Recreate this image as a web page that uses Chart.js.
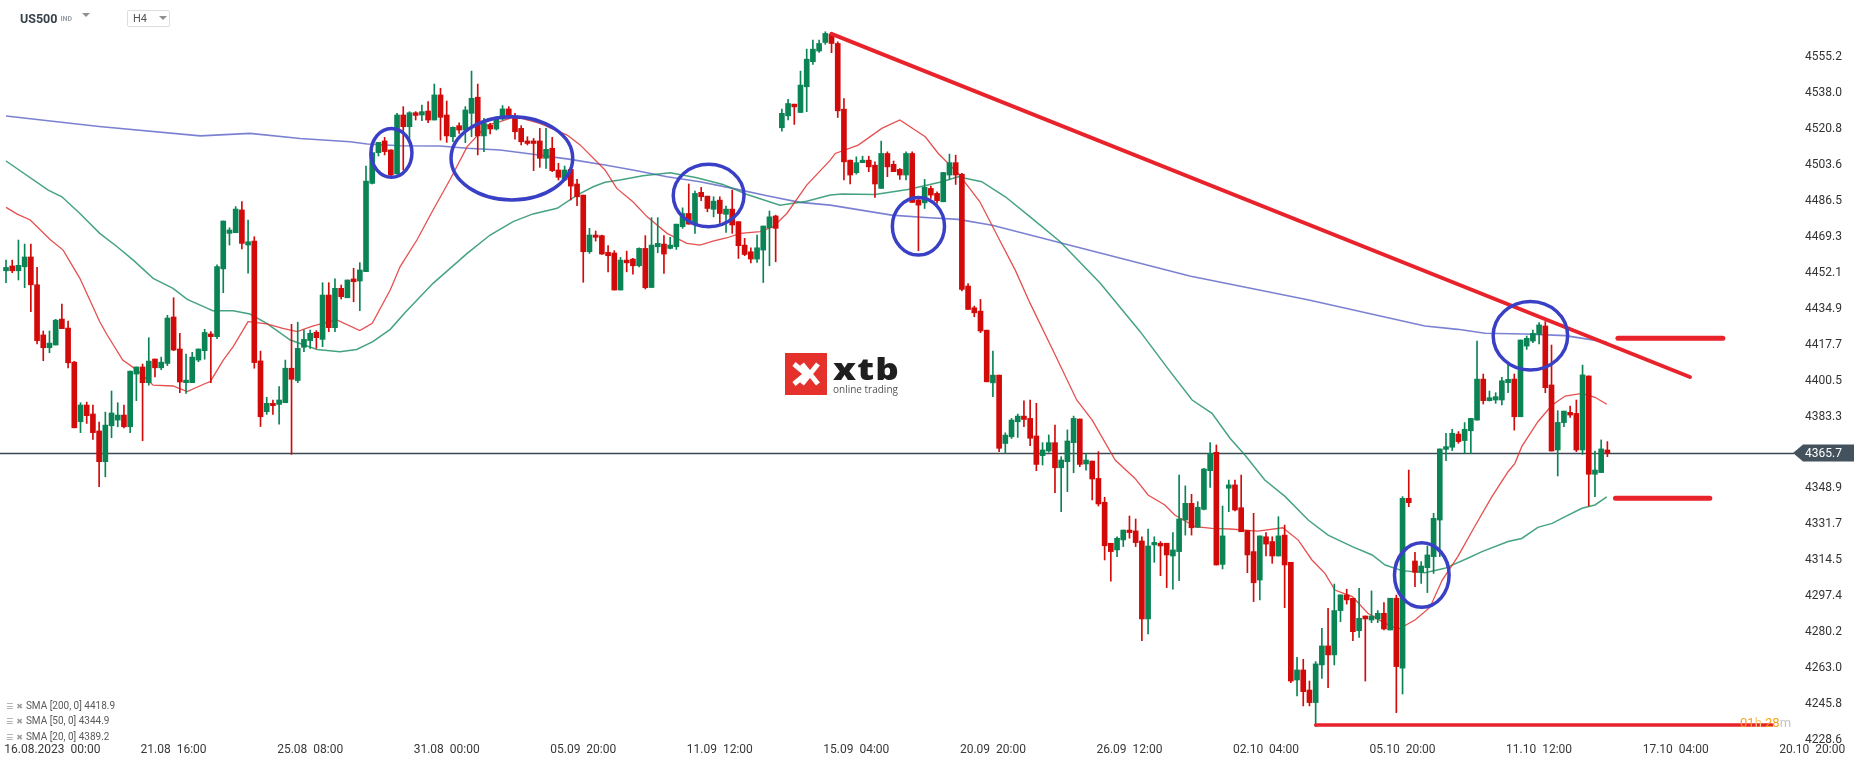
<!DOCTYPE html>
<html>
<head>
<meta charset="utf-8">
<script src="https://cdn.jsdelivr.net/npm/chart.js@4.4.0/dist/chart.umd.min.js"></script>
<style>
  html, body { margin: 0; padding: 0; background: #fff; }
  #wrap { position: relative; width: 1866px; height: 767px; overflow: hidden; font-family: Roboto, "Noto Sans", sans-serif; }
  #chart { position: absolute; left: 0; top: 0; }
  .abs { position: absolute; white-space: pre; }
  #sym { left: 20px; top: 11px; font-size: 12.5px; font-weight: 700; color: #36434d; }
  #sym span { font-size: 7px; color: #9aa0a6; margin-left: 3px; vertical-align: 2px; }
  .tri { position: absolute; width: 0; height: 0; border-left: 4px solid transparent; border-right: 4px solid transparent; border-top: 4px solid #8d9196; }
  #tf { left: 127px; top: 10px; width: 41px; height: 15px; border: 1px solid #dcdfe2; border-radius: 2px; }
  #tf span { position: absolute; left: 5px; top: 1px; font-size: 11px; color: #555; }
  .leg { left: 6px; font-size: 10px; color: #5a5a5a; line-height: 14px; }
  .leg i { font-style: normal; font-family: "DejaVu Sans"; font-size: 8px; color: #a0a0a0; margin-right: 3px; }
  #logo { left: 785px; top: 353px; }
  #xtb { left: 833px; top: 348px; font-family: "Open Sans", sans-serif; font-weight: 800; font-size: 30px; color: #1f1f1f; transform-origin: 0 0; transform: scaleX(1.22); letter-spacing: 1px; }
  #ot { left: 833px; top: 382px; font-family: "Open Sans", sans-serif; font-size: 10px; color: #555; }
  #cd { left: 1740px; top: 715px; font-size: 13px; }
</style>
</head>
<body>
<div id="wrap">
  <canvas id="chart" width="1866" height="767"></canvas>

  <div id="sym" class="abs">US500<span>IND</span></div>
  <div class="tri" style="left:82px;top:13px"></div>
  <div id="tf" class="abs"><span>H4</span><div class="tri" style="left:31px;top:5px"></div></div>

  <div class="abs leg" style="top:699px"><i>☰</i><i>✖</i>SMA [200, 0] 4418.9</div>
  <div class="abs leg" style="top:714px"><i>☰</i><i>✖</i>SMA [50, 0] 4344.9</div>
  <div class="abs leg" style="top:730px"><i>☰</i><i>✖</i>SMA [20, 0] 4389.2</div>

  <svg id="logo" class="abs" width="42" height="42" viewBox="0 0 42 42">
    <rect width="42" height="42" fill="#e4312b"/>
    <path d="M9 11 L21 21 L9 31" stroke="#fff" stroke-width="5" fill="none"/>
    <path d="M17 11 L33 31 M33 11 L17 31" stroke="#fff" stroke-width="5" fill="none"/>
  </svg>
  <div id="xtb" class="abs">xtb</div>
  <div id="ot" class="abs">online trading</div>

  <div id="cd" class="abs"><span style="color:#f5a31a">01</span><span style="color:#f7c77a">h</span> <span style="color:#f5a31a">28</span><span style="color:#c4c4c4">m</span></div>
</div>

<script>
// H4 candles of US500, oldest first. Bar index 0 = 16.08.2023 00:00
const firstBar = -5;

const opens = [
  4453.0, 4455.3, 4453.0, 4454.9, 4459.6, 4446.3, 4422.3, 4416.2, 4417.5, 4429.9,
  4425.6, 4409.3, 4380.8, 4388.8, 4384.5, 4376.4, 4361.7, 4378.9, 4381.6, 4384.0,
  4378.4, 4403.6, 4407.0, 4399.5, 4410.8, 4406.6, 4408.7, 4430.9, 4415.6, 4399.5,
  4399.5, 4410.3, 4414.8, 4422.8, 4421.5, 4453.9, 4470.9, 4471.2, 4482.1, 4465.3,
  4467.2, 4409.9, 4385.6, 4389.6, 4389.1, 4389.9, 4406.4, 4400.5, 4416.4, 4419.6,
  4423.6, 4420.2, 4441.4, 4425.8, 4444.6, 4440.1, 4449.1, 4448.1, 4452.6, 4494.8,
  4509.5, 4515.1, 4510.8, 4499.3, 4527.5, 4521.9, 4528.6, 4527.5, 4529.4, 4525.1,
  4537.1, 4527.5, 4517.1, 4522.4, 4520.3, 4528.3, 4536.0, 4517.5, 4522.7, 4520.8,
  4525.6, 4530.4, 4527.0, 4521.1, 4515.1, 4515.1, 4515.1, 4506.8, 4511.6, 4501.2,
  4496.4, 4501.5, 4494.5, 4489.2, 4462.1, 4470.1, 4469.8, 4461.8, 4461.5, 4443.8,
  4458.1, 4458.6, 4455.4, 4463.7, 4445.0, 4464.5, 4465.8, 4463.7, 4464.5, 4474.1,
  4480.4, 4475.3, 4490.5, 4488.7, 4482.4, 4486.8, 4480.0, 4482.5, 4476.5, 4465.3,
  4462.1, 4458.6, 4462.9, 4473.6, 4479.2, 4521.4, 4527.1, 4532.7, 4528.7, 4541.0,
  4553.0, 4558.1, 4562.2, 4566.2, 4561.7, 4530.3, 4505.9, 4499.9, 4504.7, 4505.9,
  4503.5, 4492.4, 4509.1, 4503.9, 4501.5, 4498.8, 4509.1, 4486.8, 4485.5, 4492.4,
  4490.0, 4486.0, 4498.8, 4504.7, 4499.2, 4445.7, 4435.3, 4433.7, 4424.6, 4399.4,
  4403.1, 4370.4, 4373.6, 4380.8, 4383.5, 4382.4, 4374.0, 4364.6, 4366.8, 4370.8,
  4358.8, 4361.7, 4370.8, 4382.1, 4360.6, 4362.0, 4353.7, 4342.3, 4322.7, 4319.5,
  4324.3, 4329.0, 4328.6, 4323.8, 4286.5, 4321.9, 4322.7, 4322.7, 4316.6, 4318.7,
  4333.8, 4341.8, 4330.3, 4338.9, 4357.4, 4366.2, 4312.6, 4349.0, 4350.6, 4339.7,
  4328.7, 4318.7, 4305.1, 4325.8, 4323.5, 4316.6, 4326.6, 4313.6, 4257.3, 4262.1,
  4252.5, 4246.5, 4264.5, 4273.6, 4269.3, 4290.5, 4298.0, 4296.4, 4280.9, 4287.9,
  4286.0, 4286.5, 4289.2, 4281.2, 4296.4, 4262.9, 4344.2, 4314.2, 4308.8, 4311.0,
  4316.3, 4333.8, 4367.6, 4368.6, 4374.9, 4371.8, 4376.5, 4381.6, 4401.2, 4390.9,
  4391.2, 4391.2, 4399.5, 4401.2, 4383.2, 4417.0, 4419.4, 4422.6, 4426.6, 4398.4,
  4367.3, 4380.4, 4385.3, 4384.8, 4367.3, 4402.7, 4355.7, 4356.5, 4367.3
];
const highs = [
  4458.1, 4458.1, 4467.7, 4465.8, 4465.8, 4454.6, 4424.2, 4424.2, 4429.8, 4437.1,
  4429.0, 4409.7, 4389.9, 4390.2, 4388.8, 4380.7, 4385.4, 4395.5, 4389.9, 4388.8,
  4405.0, 4407.0, 4408.4, 4421.0, 4410.8, 4411.7, 4431.7, 4440.1, 4423.1, 4413.2,
  4414.0, 4415.6, 4425.0, 4423.9, 4455.8, 4476.8, 4473.6, 4483.7, 4486.1, 4477.3,
  4469.3, 4414.6, 4392.5, 4391.2, 4397.6, 4410.3, 4427.4, 4428.4, 4424.7, 4424.7,
  4424.4, 4447.3, 4447.3, 4449.1, 4446.2, 4448.6, 4454.2, 4456.9, 4503.1, 4509.5,
  4514.4, 4516.8, 4510.8, 4528.3, 4531.5, 4529.1, 4529.1, 4532.3, 4533.9, 4542.3,
  4540.3, 4534.2, 4521.9, 4523.8, 4531.5, 4548.5, 4542.3, 4525.9, 4523.5, 4526.7,
  4532.0, 4531.5, 4528.3, 4522.4, 4517.1, 4516.3, 4521.1, 4521.1, 4516.8, 4504.4,
  4503.1, 4503.1, 4496.7, 4489.2, 4473.3, 4472.0, 4470.1, 4465.0, 4462.6, 4459.4,
  4462.4, 4458.9, 4464.0, 4469.8, 4478.4, 4478.4, 4469.8, 4469.0, 4475.3, 4483.1,
  4494.5, 4491.1, 4492.9, 4488.7, 4488.4, 4488.4, 4483.9, 4491.6, 4476.5, 4468.5,
  4464.0, 4470.1, 4474.4, 4481.6, 4479.6, 4530.3, 4535.0, 4532.7, 4548.5, 4559.0,
  4563.3, 4563.3, 4567.3, 4566.5, 4562.5, 4535.4, 4505.9, 4507.5, 4507.8, 4507.8,
  4505.1, 4515.0, 4509.9, 4505.5, 4501.9, 4509.9, 4509.9, 4488.4, 4496.7, 4493.5,
  4490.8, 4500.0, 4508.8, 4508.3, 4499.6, 4446.9, 4436.1, 4439.3, 4424.6, 4414.6,
  4403.1, 4375.5, 4382.4, 4384.5, 4390.8, 4391.2, 4389.6, 4370.8, 4374.5, 4379.2,
  4364.1, 4376.9, 4383.5, 4382.1, 4365.4, 4362.0, 4366.5, 4344.7, 4322.7, 4325.8,
  4329.0, 4335.7, 4334.3, 4325.8, 4329.5, 4325.8, 4323.5, 4322.7, 4327.8, 4355.3,
  4350.1, 4346.1, 4342.6, 4358.5, 4370.8, 4369.7, 4340.5, 4352.9, 4352.9, 4355.3,
  4328.7, 4337.0, 4326.2, 4327.8, 4325.8, 4335.4, 4331.4, 4313.6, 4268.1, 4267.2,
  4256.8, 4266.1, 4282.0, 4291.6, 4303.2, 4298.0, 4300.7, 4296.4, 4301.1, 4287.9,
  4299.9, 4290.5, 4294.3, 4296.4, 4297.9, 4345.0, 4357.7, 4318.4, 4313.9, 4321.4,
  4337.0, 4367.8, 4375.3, 4377.2, 4376.1, 4380.4, 4382.4, 4419.4, 4403.6, 4395.5,
  4394.7, 4402.0, 4409.1, 4403.6, 4419.9, 4421.8, 4424.7, 4428.2, 4428.7, 4417.5,
  4386.1, 4385.9, 4388.3, 4391.2, 4407.9, 4402.7, 4366.8, 4372.1, 4371.3
];
const lows = [
  4447.3, 4452.1, 4448.6, 4444.9, 4433.4, 4418.0, 4410.0, 4413.8, 4417.5, 4425.3,
  4406.6, 4377.9, 4375.6, 4380.0, 4372.4, 4349.7, 4354.5, 4373.2, 4378.4, 4377.9,
  4375.6, 4390.9, 4371.7, 4398.3, 4402.3, 4405.7, 4407.6, 4414.8, 4394.7, 4394.4,
  4399.5, 4409.5, 4410.7, 4399.5, 4420.5, 4442.5, 4465.3, 4471.2, 4463.4, 4451.8,
  4406.4, 4378.5, 4384.3, 4384.3, 4379.6, 4389.9, 4365.2, 4399.5, 4414.3, 4415.9,
  4415.9, 4416.7, 4423.9, 4423.9, 4439.5, 4440.1, 4438.2, 4433.9, 4452.6, 4494.5,
  4507.9, 4508.4, 4498.0, 4499.3, 4501.2, 4516.3, 4525.1, 4524.8, 4523.8, 4525.1,
  4515.5, 4514.4, 4514.7, 4518.7, 4514.3, 4517.1, 4508.4, 4510.0, 4518.4, 4520.3,
  4525.1, 4525.9, 4516.0, 4513.2, 4513.2, 4500.9, 4502.5, 4502.0, 4500.4, 4496.4,
  4496.4, 4486.9, 4484.1, 4447.5, 4461.3, 4467.2, 4460.8, 4452.5, 4443.8, 4443.8,
  4452.5, 4451.4, 4454.9, 4444.3, 4445.0, 4461.6, 4451.7, 4463.4, 4463.2, 4473.3,
  4475.3, 4470.9, 4486.5, 4481.2, 4478.8, 4475.7, 4471.4, 4470.9, 4458.9, 4460.2,
  4456.8, 4457.0, 4447.4, 4455.4, 4457.3, 4519.8, 4525.1, 4523.0, 4528.7, 4529.1,
  4551.7, 4557.4, 4561.3, 4557.3, 4526.3, 4496.4, 4494.5, 4499.2, 4504.7, 4500.4,
  4488.1, 4492.4, 4498.0, 4500.4, 4496.7, 4496.4, 4485.7, 4462.6, 4482.8, 4487.6,
  4485.2, 4486.0, 4496.7, 4494.3, 4443.4, 4434.5, 4431.0, 4423.4, 4399.9, 4392.8,
  4366.5, 4365.7, 4372.8, 4373.3, 4378.4, 4369.4, 4357.4, 4360.1, 4366.2, 4346.9,
  4337.8, 4347.4, 4356.4, 4359.3, 4357.7, 4343.4, 4340.5, 4314.7, 4304.6, 4316.3,
  4321.1, 4325.1, 4321.1, 4276.1, 4279.3, 4313.6, 4307.2, 4301.5, 4300.7, 4304.8,
  4326.6, 4326.6, 4330.3, 4338.6, 4349.4, 4312.3, 4310.4, 4337.8, 4338.1, 4328.2,
  4308.6, 4294.8, 4295.6, 4316.6, 4313.1, 4316.6, 4291.9, 4256.0, 4249.7, 4244.9,
  4244.9, 4235.0, 4258.1, 4253.6, 4264.5, 4285.2, 4293.6, 4276.1, 4277.7, 4256.8,
  4284.7, 4284.7, 4281.2, 4281.2, 4241.7, 4250.6, 4340.2, 4301.9, 4303.5, 4299.1,
  4308.3, 4316.3, 4362.2, 4367.0, 4370.5, 4365.7, 4365.7, 4381.6, 4389.3, 4390.7,
  4389.6, 4388.8, 4394.7, 4376.8, 4383.2, 4415.4, 4418.6, 4418.0, 4394.7, 4366.8,
  4354.9, 4378.4, 4382.9, 4366.5, 4365.2, 4340.5, 4345.0, 4356.5, 4364.1
];
const closes = [
  4454.6, 4453.0, 4455.6, 4459.6, 4446.3, 4419.6, 4416.2, 4418.4, 4429.4, 4425.3,
  4409.0, 4377.9, 4388.8, 4383.7, 4375.6, 4361.7, 4379.2, 4385.0, 4384.0, 4378.4,
  4405.0, 4407.0, 4399.5, 4409.8, 4406.6, 4409.3, 4430.4, 4415.1, 4399.8, 4400.7,
  4411.7, 4415.6, 4423.5, 4421.5, 4455.0, 4476.8, 4472.5, 4482.5, 4466.1, 4466.9,
  4409.1, 4383.2, 4389.6, 4388.5, 4391.2, 4406.4, 4401.1, 4415.9, 4420.2, 4423.1,
  4421.0, 4441.4, 4425.8, 4444.6, 4440.6, 4448.6, 4447.8, 4453.4, 4495.9, 4509.5,
  4514.4, 4510.0, 4498.8, 4527.5, 4521.9, 4528.6, 4527.3, 4529.1, 4525.1, 4537.1,
  4526.4, 4517.5, 4521.6, 4520.3, 4529.9, 4535.5, 4517.5, 4523.5, 4520.8, 4525.9,
  4530.4, 4526.7, 4519.5, 4514.7, 4513.9, 4513.9, 4506.8, 4511.1, 4500.9, 4497.7,
  4501.2, 4493.5, 4488.4, 4462.1, 4470.1, 4469.0, 4461.0, 4460.2, 4443.8, 4458.1,
  4456.8, 4455.4, 4463.7, 4444.9, 4465.3, 4466.1, 4461.0, 4465.3, 4475.3, 4480.4,
  4475.3, 4490.0, 4488.4, 4482.8, 4486.3, 4480.4, 4482.5, 4474.9, 4465.0, 4460.8,
  4458.6, 4464.0, 4474.4, 4478.8, 4473.3, 4528.3, 4533.0, 4531.4, 4541.8, 4554.2,
  4559.0, 4561.7, 4566.5, 4561.7, 4529.5, 4505.1, 4498.8, 4504.7, 4505.9, 4502.7,
  4494.5, 4509.1, 4502.7, 4500.4, 4498.8, 4509.1, 4485.7, 4484.4, 4492.9, 4489.2,
  4486.5, 4500.0, 4504.7, 4498.8, 4444.1, 4434.5, 4432.9, 4424.2, 4399.9, 4403.1,
  4368.1, 4374.4, 4381.6, 4383.5, 4381.9, 4372.9, 4360.4, 4367.3, 4370.8, 4358.8,
  4362.5, 4371.6, 4382.4, 4360.4, 4362.5, 4353.4, 4341.5, 4321.5, 4318.7, 4325.1,
  4329.0, 4327.8, 4323.0, 4286.5, 4321.4, 4323.1, 4321.4, 4317.1, 4319.5, 4334.3,
  4341.8, 4330.1, 4339.9, 4358.2, 4365.7, 4312.3, 4326.2, 4350.6, 4338.6, 4328.2,
  4317.1, 4303.8, 4326.2, 4322.3, 4316.6, 4326.2, 4312.3, 4256.8, 4262.1, 4251.7,
  4246.5, 4265.0, 4273.6, 4269.3, 4290.5, 4298.0, 4295.6, 4280.4, 4286.8, 4286.5,
  4287.9, 4289.2, 4281.7, 4296.4, 4263.7, 4344.2, 4342.1, 4308.8, 4311.8, 4317.1,
  4334.6, 4367.8, 4368.9, 4375.3, 4371.3, 4377.2, 4382.4, 4401.2, 4390.9, 4392.3,
  4392.8, 4400.4, 4401.1, 4383.2, 4419.9, 4420.7, 4423.1, 4427.1, 4397.1, 4366.8,
  4380.5, 4385.9, 4384.0, 4367.3, 4403.2, 4355.7, 4357.7, 4367.8, 4365.7
];

// moving averages (bar index / value)
const sma200Bar = [-5, 10, 26.3, 34.3, 42.4, 50.4, 53.2, 58.5, 64.9, 69.3, 74.6, 79.9, 82.6, 85.4, 91.5, 96.0,
  101.5, 106.8, 112.1, 117.6, 122.9, 127.8, 137.7, 143.1, 148.4, 153.9, 160.0, 185.7, 204.9, 223.6, 228.9,
  233.3, 239.7, 246.2, 252.9];
const sma200Val = [4527.0, 4522.0, 4517.5, 4518.7, 4516.3, 4514.7, 4513.6, 4512.8, 4512.7, 4511.6, 4510.8, 4508.7,
  4507.6, 4506.5, 4503.6, 4501.2, 4498.0, 4495.6, 4492.4, 4488.9, 4485.7, 4484.4, 4479.6, 4478.5, 4477.6, 4474.8,
  4470.1, 4450.5, 4439.0, 4426.6, 4425.0, 4423.1, 4422.8, 4422.0, 4418.9];

const sma50Bar = [-5, 1.8, 4.0, 6.9, 10.1, 12.9, 15.5, 18.7, 21.9, 24.2, 27.1, 28.3, 31.6, 34.3, 37.0, 40.8, 45.1,
  48.8, 51.5, 54.1, 56.9, 59.3, 63.8, 69.3, 73.0, 76.7, 79.9, 83.8, 87.0, 89.6, 91.5, 93.9, 97.6, 102.0, 106.3,
  110.5, 114.4, 119.7, 124.0, 127.8, 129.7, 135.0, 140.3, 145.8, 148.4, 152.2, 156.0, 160.0, 164.8, 171.3, 177.7,
  182.5, 186.1, 189.3, 192.2, 194.6, 197.8, 201.1, 204.8, 208.0, 211.9, 215.1, 217.2, 219.9, 223.6, 226.8, 230.5,
  232.8, 237.0, 239.2, 241.8, 244.1, 246.2, 248.9, 251.0, 252.9];
const sma50Val = [4505.5, 4491.6, 4488.4, 4480.4, 4470.9, 4464.5, 4458.1, 4449.4, 4444.6, 4439.3, 4435.5, 4433.9,
  4433.9, 4432.3, 4427.9, 4419.9, 4415.4, 4414.3, 4415.4, 4419.1, 4425.0, 4433.0, 4447.0, 4461.3, 4470.1, 4476.5,
  4480.2, 4482.9, 4489.2, 4493.2, 4495.3, 4496.4, 4498.5, 4499.9, 4497.5, 4494.3, 4489.5, 4484.4, 4486.3, 4489.2,
  4489.7, 4489.5, 4491.9, 4495.6, 4498.0, 4495.6, 4488.4, 4478.8, 4467.0, 4447.0, 4424.0, 4405.0, 4391.2, 4384.8,
  4372.9, 4364.9, 4352.9, 4345.0, 4333.8, 4326.6, 4321.1, 4317.1, 4312.3, 4309.6, 4308.6, 4310.7, 4315.5, 4318.7,
  4323.5, 4325.0, 4330.3, 4332.2, 4335.4, 4339.4, 4341.0, 4344.9];

const sma20Bar = [-5, -3.2, -1.1, 2.1, 4.2, 6.9, 8.5, 10.1, 11.3, 13.8, 16.1, 18.7, 21.9, 24.2, 27.1, 27.9, 30.0,
  31.6, 34.0, 37.0, 39.6, 41.9, 44.5, 48.3, 52.0, 54.0, 56.9, 58.5, 61.2, 63.8, 66.5, 69.3, 72.5, 74.6, 77.0, 81.0,
  85.4, 87.5, 91.5, 93.4, 96.0, 98.3, 101.5, 104.7, 106.8, 108.9, 111.2, 113.3, 116.5, 118.6, 120.8, 124.0, 127.8,
  128.6, 132.3, 136.1, 139.0, 143.1, 145.2, 148.4, 151.9, 154.8, 157.6, 160.0, 164.0, 167.5, 170.0, 173.7, 176.9,
  179.0, 181.7, 183.3, 186.6, 189.3, 192.2, 196.7, 200.7, 203.2, 205.4, 207.5, 209.1, 211.9, 214.4, 217.2, 219.3,
  222.0, 224.4, 226.4, 228.9, 231.6, 234.4, 237.0, 238.1, 239.2, 241.8, 244.1, 246.2, 248.9, 251.0, 252.9];
const sma20Val = [4483.3, 4480.1, 4477.3, 4468.0, 4462.9, 4449.4, 4439.0, 4428.6, 4422.3, 4410.3, 4405.5, 4398.3,
  4397.9, 4395.2, 4399.1, 4400.0, 4410.3, 4416.7, 4428.7, 4427.6, 4425.5, 4423.9, 4426.6, 4429.5, 4424.4, 4427.9,
  4443.8, 4455.0, 4467.7, 4482.1, 4496.4, 4512.4, 4522.7, 4524.3, 4526.7, 4523.5, 4517.9, 4513.2, 4501.2, 4492.4,
  4486.0, 4478.8, 4470.9, 4466.1, 4465.3, 4467.2, 4468.8, 4470.9, 4471.7, 4474.1, 4480.4, 4494.0, 4505.9, 4509.1,
  4513.1, 4521.1, 4525.1, 4517.1, 4509.1, 4499.6, 4486.0, 4469.3, 4453.3, 4437.4, 4413.0, 4391.2, 4381.6, 4362.5,
  4353.7, 4345.8, 4341.0, 4336.2, 4330.6, 4329.8, 4329.5, 4328.5, 4330.1, 4324.2, 4314.7, 4308.3, 4300.3, 4297.2,
  4289.2, 4284.4, 4281.5, 4286.0, 4292.0, 4305.1, 4316.3, 4330.6, 4345.0, 4356.9, 4360.9, 4368.9, 4380.8, 4388.8,
  4393.1, 4394.4, 4392.5, 4389.2];

const lastPrice = 4365.7;

const xTickBars = [0, 22, 44, 66, 88, 110, 132, 154, 176, 198, 220, 242, 264, 286];
const xTickText = ['\u2002\u2002\u2002\u2002\u200216.08.2023  00:00', '21.08  16:00', '25.08  08:00', '31.08  00:00',
  '05.09  20:00', '11.09  12:00', '15.09  04:00', '20.09  20:00', '26.09  12:00', '02.10  04:00', '05.10  20:00',
  '11.10  12:00', '17.10  04:00', '20.10  20:00'];
const yTicks = [4555.2, 4538.0, 4520.8, 4503.6, 4486.5, 4469.3, 4452.1, 4434.9, 4417.7, 4400.5, 4383.3,
  4348.9, 4331.7, 4314.5, 4297.4, 4280.2, 4263.0, 4245.8, 4228.6];

// hand drawn marks on the chart, in bar / price units
const trendLine = { bar0: 128, price0: 4566.3, bar1: 266.3, price1: 4402.2 };
const levels = [
  { bar0: 254.7, bar1: 271.6, price: 4420.7, width: 5 },
  { bar0: 254.3, bar1: 269.5, price: 4344.2, width: 5 },
  { bar0: 206, bar1: 279.5, price: 4235.8, width: 3.5 }
];
const circles = [ // centre bar, centre price, half width (bars), half height (points)
  [57.1, 4509.4, 3.3, 11.7],
  [76.5, 4506.8, 9.8, 19.9],
  [108.2, 4489.0, 5.7, 14.9],
  [142.0, 4474.3, 4.2, 13.8],
  [223.1, 4307.5, 4.4, 15.4],
  [240.6, 4421.9, 6.0, 16.4]
];

const UP = '#0a8455';
const DOWN = '#d20a0a';

const candleColors = opens.map((o, i) => closes[i] >= o ? UP : DOWN);
const wicks = lows.map((l, i) => ({ x: firstBar + i, y: [l, highs[i]] }));
const bodies = opens.map((o, i) => ({ x: firstBar + i, y: [o, closes[i]] }));
const toPoints = (bars, vals) => bars.map((b, i) => ({ x: b, y: vals[i] }));

const overlay = {
  id: 'overlay',
  beforeDatasetsDraw(chart) {
    const { ctx, chartArea, scales: { y } } = chart;
    const py = Math.round(y.getPixelForValue(lastPrice)) + 0.5;
    ctx.save();
    ctx.strokeStyle = '#3d4953';
    ctx.lineWidth = 1.3;
    ctx.beginPath();
    ctx.moveTo(chartArea.left, py);
    ctx.lineTo(chartArea.right - 48, py);
    ctx.stroke();
    ctx.restore();
  },
  afterDatasetsDraw(chart) {
    const { ctx, scales: { x, y } } = chart;
    ctx.save();
    // trend line
    ctx.strokeStyle = '#e8232b';
    ctx.lineWidth = 4;
    ctx.lineCap = 'round';
    ctx.beginPath();
    ctx.moveTo(x.getPixelForValue(trendLine.bar0), y.getPixelForValue(trendLine.price0));
    ctx.lineTo(x.getPixelForValue(trendLine.bar1), y.getPixelForValue(trendLine.price1));
    ctx.stroke();
    // horizontal levels
    levels.forEach(l => {
      ctx.lineWidth = l.width;
      ctx.beginPath();
      const py = y.getPixelForValue(l.price);
      ctx.moveTo(x.getPixelForValue(l.bar0), py);
      ctx.lineTo(x.getPixelForValue(l.bar1), py);
      ctx.stroke();
    });
    // circles
    ctx.strokeStyle = '#3a40c6';
    ctx.lineWidth = 3.5;
    circles.forEach(c => {
      const cx = x.getPixelForValue(c[0]);
      const cy = y.getPixelForValue(c[1]);
      const rx = x.getPixelForValue(c[0] + c[2]) - cx;
      const ry = cy - y.getPixelForValue(c[1] + c[3]);
      ctx.beginPath();
      ctx.ellipse(cx, cy, rx, ry, 0, 0, Math.PI * 2);
      ctx.stroke();
    });
    ctx.restore();
  },
  afterDraw(chart) {
    // last price tag on the price axis
    const { ctx, chartArea, scales: { y } } = chart;
    const py = Math.round(y.getPixelForValue(lastPrice));
    const r = chartArea.right;
    ctx.save();
    ctx.fillStyle = '#44525d';
    ctx.beginPath();
    ctx.moveTo(r - 49, py);
    ctx.lineTo(r - 39, py - 8.5);
    ctx.lineTo(r + 12, py - 8.5);
    ctx.lineTo(r + 12, py + 8.5);
    ctx.lineTo(r - 39, py + 8.5);
    ctx.closePath();
    ctx.fill();
    ctx.fillStyle = '#ffffff';
    ctx.font = '12px Roboto';
    ctx.textAlign = 'right';
    ctx.textBaseline = 'middle';
    ctx.fillText(lastPrice.toFixed(1), r, py + 0.5);
    ctx.restore();
  }
};

new Chart(document.getElementById('chart'), {
  type: 'bar',
  data: {
    datasets: [
      { type: 'line', label: 'SMA 200', data: toPoints(sma200Bar, sma200Val), borderColor: 'rgba(72,80,192,0.72)',
        borderWidth: 1.6, pointRadius: 0, tension: 0, order: 5 },
      { type: 'line', label: 'SMA 50', data: toPoints(sma50Bar, sma50Val), borderColor: 'rgba(24,140,96,0.8)',
        borderWidth: 1.5, pointRadius: 0, tension: 0, order: 4 },
      { type: 'line', label: 'SMA 20', data: toPoints(sma20Bar, sma20Val), borderColor: 'rgba(226,48,48,0.85)',
        borderWidth: 1.3, pointRadius: 0, tension: 0, order: 3 },
      { label: 'wick', data: wicks, backgroundColor: candleColors, barThickness: 1, grouped: false, order: 2 },
      { label: 'body', data: bodies, backgroundColor: candleColors, barThickness: 5, grouped: false,
        minBarLength: 1, order: 1 }
    ]
  },
  options: {
    responsive: false,
    animation: false,
    layout: { padding: 0, autoPadding: false },
    plugins: { legend: { display: false }, tooltip: { enabled: false } },
    scales: {
      x: {
        type: 'linear', min: -5.97, max: 290.8, offset: false,
        grid: { display: false, drawTicks: false }, border: { display: false },
        afterBuildTicks: s => { s.ticks = xTickBars.map(v => ({ value: v })); },
        afterFit: s => { s.height = 27; s.paddingLeft = 0; s.paddingRight = 0; },
        ticks: {
          autoSkip: false, maxRotation: 0, minRotation: 0, padding: 3, color: '#383838',
          font: { family: 'Roboto', size: 12 },
          callback: v => xTickText[xTickBars.indexOf(v)]
        }
      },
      y: {
        type: 'linear', position: 'right', min: 4228.6, max: 4582.5,
        grid: { display: false, drawTicks: false }, border: { display: false },
        afterBuildTicks: s => { s.ticks = yTicks.map(v => ({ value: v })); },
        afterFit: s => { s.width = 24; s.paddingTop = 0; s.paddingBottom = 0; },
        ticks: {
          mirror: true, padding: 0, color: '#333', font: { family: 'Roboto', size: 12 },
          callback: v => v.toFixed(1)
        }
      }
    }
  },
  plugins: [overlay]
});
</script>
</body>
</html>
